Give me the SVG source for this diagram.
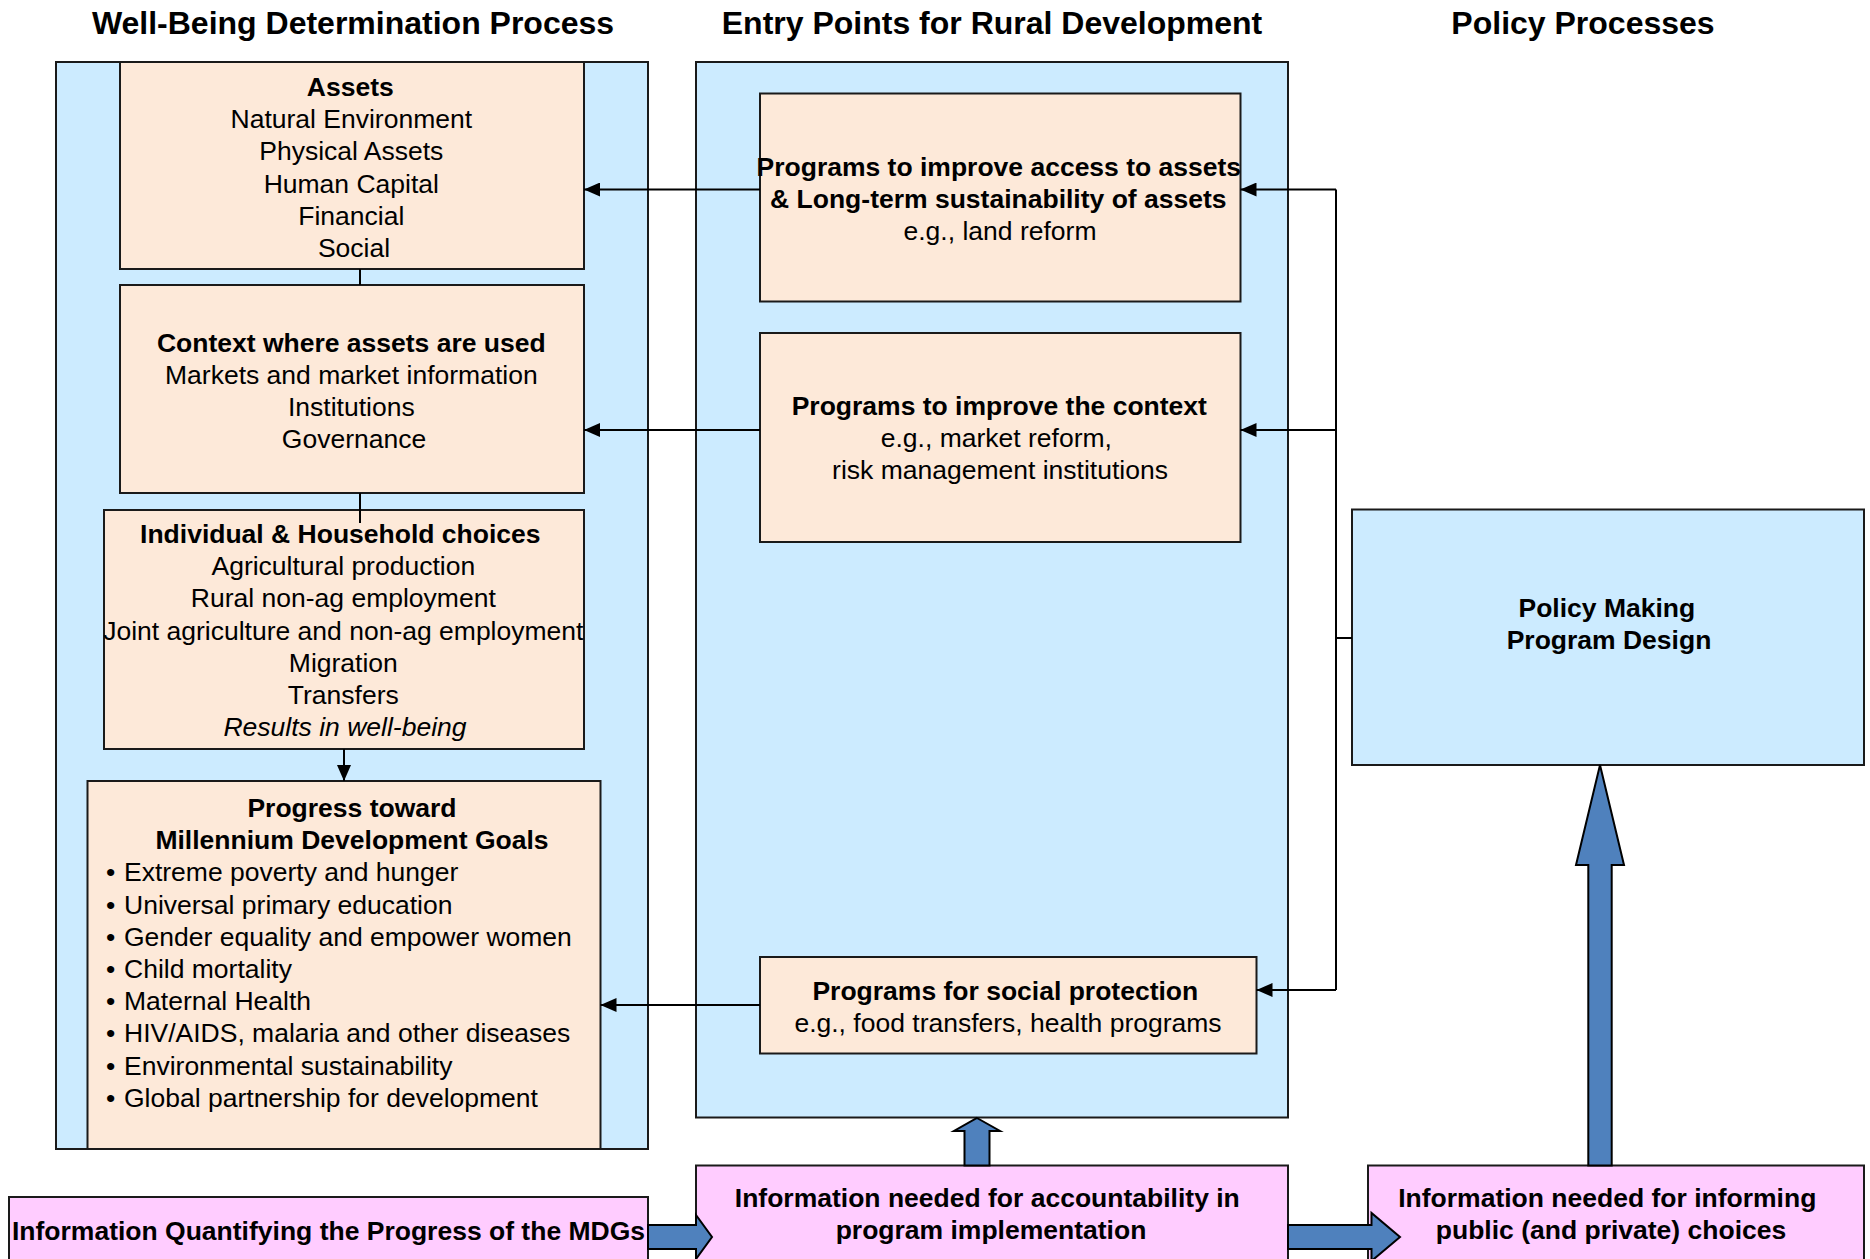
<svg xmlns="http://www.w3.org/2000/svg" width="1870" height="1259" viewBox="0 0 1870 1259">
<style>
.outer{fill:#CCEBFF;stroke:#1a1a1a;stroke-width:2}
.node{fill:#FDE9D9;stroke:#1a1a1a;stroke-width:2}
.pink{fill:#FFCCFF;stroke:#1a1a1a;stroke-width:2}
.policy{fill:#CCEBFF;stroke:#1a1a1a;stroke-width:2}
text{font-family:"Liberation Sans",Arial,Helvetica,sans-serif;font-size:26.5px;fill:#000}
.b{font-weight:bold}
.i{font-style:italic}
.title{font-size:32px;font-weight:bold}
.c{text-anchor:middle}
.ln{stroke:#000;stroke-width:2;fill:none}
.barrow{fill:#4F81BD;stroke:#000;stroke-width:2;stroke-linejoin:miter}
</style>
<defs>
<marker id="ah" markerUnits="userSpaceOnUse" markerWidth="16" markerHeight="14" refX="16" refY="7" orient="auto">
<path d="M0,0 L16,7 L0,14 z" fill="#000"/>
</marker>
</defs>
<rect width="1870" height="1259" fill="#fff"/>
<g id="titles">
<text class="title c" x="353" y="34">Well-Being Determination Process</text>
<text class="title c" x="992" y="34">Entry Points for Rural Development</text>
<text class="title c" x="1583" y="34">Policy Processes</text>
</g>
<g id="well-being-column"><rect class="outer" x="56" y="62" width="592" height="1087"/></g>
<g id="entry-points-column"><rect class="outer" x="696" y="62" width="592" height="1055.5"/></g>
<g id="assets">
<rect class="node" x="120" y="62" width="464" height="207"/>
<text class="c">
<tspan class="b" x="354" y="96">Assets</tspan>
<tspan x="355" y="128.2">Natural Environment</tspan>
<tspan x="355" y="160.4">Physical Assets</tspan>
<tspan x="355" y="192.6">Human Capital</tspan>
<tspan x="355" y="224.8">Financial</tspan>
<tspan x="354" y="257">Social</tspan>
</text>
</g>
<g id="context">
<rect class="node" x="120" y="285" width="464" height="208"/>
<text class="c">
<tspan class="b" x="355" y="351.5">Context where assets are used</tspan>
<tspan x="355" y="383.7">Markets and market information</tspan>
<tspan x="355" y="415.9">Institutions</tspan>
<tspan x="354" y="448.1">Governance</tspan>
</text>
</g>
<g id="choices">
<rect class="node" x="104" y="510" width="480" height="239"/>
<text class="c">
<tspan class="b" x="344" y="543">Individual &amp; Household choices</tspan>
<tspan x="347" y="575.2">Agricultural production</tspan>
<tspan x="347" y="607.4">Rural non-ag employment</tspan>
<tspan x="347" y="639.6">Joint agriculture and non-ag employment</tspan>
<tspan x="347" y="671.8">Migration</tspan>
<tspan x="347" y="704">Transfers</tspan>
<tspan class="i" x="345" y="736.2">Results in well-being</tspan>
</text>
</g>
<g id="mdg">
<rect class="node" x="87.5" y="781" width="513" height="368"/>
<text class="b c" x="352" y="817">Progress toward</text>
<text class="b c" x="352" y="849.2">Millennium Development Goals</text>
<text><tspan x="106" y="881.4">•</tspan><tspan x="124" y="881.4">Extreme poverty and hunger</tspan></text>
<text><tspan x="106" y="913.6">•</tspan><tspan x="124" y="913.6">Universal primary education</tspan></text>
<text><tspan x="106" y="945.8">•</tspan><tspan x="124" y="945.8">Gender equality and empower women</tspan></text>
<text><tspan x="106" y="978">•</tspan><tspan x="124" y="978">Child mortality</tspan></text>
<text><tspan x="106" y="1010.2">•</tspan><tspan x="124" y="1010.2">Maternal Health</tspan></text>
<text><tspan x="106" y="1042.4">•</tspan><tspan x="124" y="1042.4">HIV/AIDS, malaria and other diseases</tspan></text>
<text><tspan x="106" y="1074.6">•</tspan><tspan x="124" y="1074.6">Environmental sustainability</tspan></text>
<text><tspan x="106" y="1106.8">•</tspan><tspan x="124" y="1106.8">Global partnership for development</tspan></text>
</g>
<g id="prog-assets">
<rect class="node" x="760" y="93.5" width="480.5" height="208"/>
<text class="c">
<tspan class="b" x="1002.5" y="175.5">Programs to improve access to assets</tspan>
<tspan class="b" x="1002" y="207.5">&amp; Long-term sustainability of assets</tspan>
<tspan x="1000" y="239.5">e.g., land reform</tspan>
</text>
</g>
<g id="prog-context">
<rect class="node" x="760" y="333" width="480.5" height="209"/>
<text class="c">
<tspan class="b" x="1003" y="415">Programs to improve the context</tspan>
<tspan x="1000" y="447">e.g., market reform,</tspan>
<tspan x="1000" y="479">risk management institutions</tspan>
</text>
</g>
<g id="prog-social">
<rect class="node" x="760" y="957" width="496.5" height="96.5"/>
<text class="c">
<tspan class="b" x="1009" y="999.5">Programs for social protection</tspan>
<tspan x="1008" y="1031.5">e.g., food transfers, health programs</tspan>
</text>
</g>
<g id="policy">
<rect class="policy" x="1352" y="509.5" width="512" height="255.5"/>
<text class="b c">
<tspan x="1610.5" y="616.5">Policy Making</tspan>
<tspan x="1609" y="648.5">Program Design</tspan>
</text>
</g>
<g id="info-mdgs">
<rect class="pink" x="9" y="1197" width="639" height="80"/>
<text class="b c" x="328.5" y="1240">Information Quantifying the Progress of the MDGs</text>
</g>
<g id="info-accountability">
<rect class="pink" x="696" y="1165.5" width="592" height="110"/>
<text class="b c">
<tspan x="991" y="1207">Information needed for accountability in</tspan>
<tspan x="991" y="1239">program implementation</tspan>
</text>
</g>
<g id="info-choices">
<rect class="pink" x="1368" y="1165.5" width="496" height="110"/>
<text class="b c">
<tspan x="1611" y="1207">Information needed for informing</tspan>
<tspan x="1611" y="1239">public (and private) choices</tspan>
</text>
</g>
<g id="connectors">
<path class="ln" d="M360,269 V285"/>
<path class="ln" d="M360,493 V523"/>
<path class="ln" d="M344,749 V781" marker-end="url(#ah)"/>
<path class="ln" d="M760,189.5 H584" marker-end="url(#ah)"/>
<path class="ln" d="M760,430 H584" marker-end="url(#ah)"/>
<path class="ln" d="M760,1005 H600.5" marker-end="url(#ah)"/>
<path class="ln" d="M1336,189.5 V990"/>
<path class="ln" d="M1336,189.5 H1240.5" marker-end="url(#ah)"/>
<path class="ln" d="M1336,430 H1240.5" marker-end="url(#ah)"/>
<path class="ln" d="M1336,990 H1256.5" marker-end="url(#ah)"/>
<path class="ln" d="M1336,638 H1352"/>
<polygon class="barrow" points="977,1118 1000,1131 989.5,1131 989.5,1165.5 964.5,1165.5 964.5,1131 954,1131"/>
<polygon class="barrow" points="1600,765 1624,865 1611.7,865 1611.7,1165.5 1588.3,1165.5 1588.3,865 1576,865"/>
<polygon class="barrow" points="648,1225 696,1225 696,1215 712,1237 696,1259 696,1249 648,1249"/>
<polygon class="barrow" points="1288,1225 1371.5,1225 1371.5,1213 1400,1237 1371.5,1261 1371.5,1249 1288,1249"/>
</g>
</svg>
